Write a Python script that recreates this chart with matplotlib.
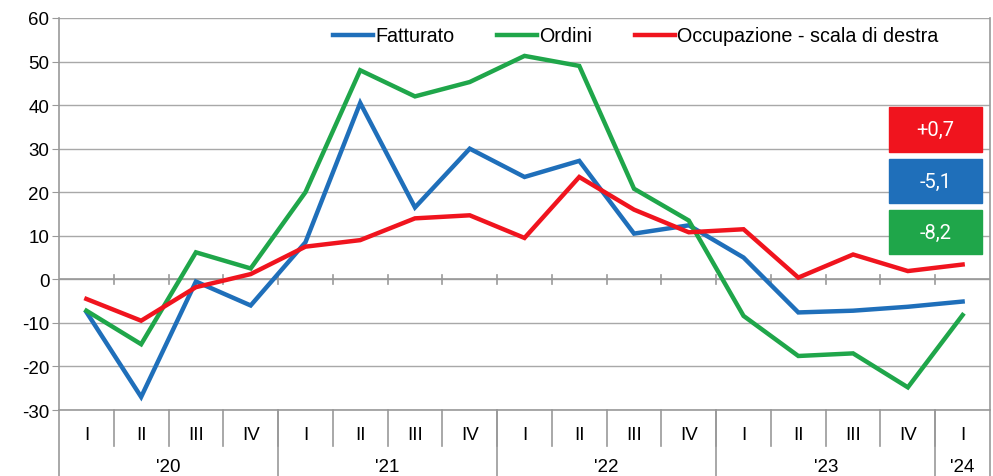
import matplotlib
matplotlib.use("Agg")
import matplotlib.pyplot as plt
from matplotlib.patches import Rectangle
import matplotlib.transforms as mtransforms

plt.rcParams['font.family'] = ['Liberation Sans', 'DejaVu Sans']
plt.rcParams['axes.unicode_minus'] = False

quarters = ["I", "II", "III", "IV", "I", "II", "III", "IV", "I", "II", "III", "IV",
            "I", "II", "III", "IV", "I"]
years = ["'20", "'21", "'22", "'23", "'24"]
year_counts = [4, 4, 4, 4, 1]

fatturato = [-7.5, -27.0, -0.5, -6.0, 8.5, 40.5, 16.5, 30.0, 23.5, 27.2, 10.5, 12.4,
             5.0, -7.6, -7.2, -6.3, -5.1]
ordini = [-7.2, -14.9, 6.2, 2.5, 20.0, 48.0, 42.0, 45.3, 51.3, 49.0, 20.8, 13.5,
          -8.4, -17.6, -17.0, -24.8, -8.2]
occupazione = [-4.5, -9.5, -1.8, 1.2, 7.5, 9.0, 14.0, 14.7, 9.5, 23.5, 16.0, 10.8,
               11.5, 0.4, 5.7, 1.9, 3.4]

series_names = ["Fatturato", "Ordini", "Occupazione - scala di destra"]
colors = ["#1f6fba", "#1fa64a", "#f0141e"]
box_labels = ["+0,7", "-5,1", "-8,2"]
box_colors = ["#f0141e", "#1f6fba", "#1fa64a"]

FS = 13.5
W, H = 993, 477
fig = plt.figure(figsize=(W / 100, H / 100), dpi=100)
L, R, T, B = 59, 990, 19, 411
ax = fig.add_axes([L / W, 1 - B / H, (R - L) / W, (B - T) / H])

x = list(range(len(quarters)))
for vals, name, c in zip([fatturato, ordini, occupazione], series_names, colors):
    ax.plot(x, vals, color=c, lw=3.2, label=name, solid_joinstyle='miter', zorder=3)

ax.set_xlim(-0.5, len(quarters) - 0.5)
ax.set_ylim(-30, 60)
ax.set_yticks(range(-30, 61, 10))
ax.tick_params(axis='y', labelsize=FS, length=5, color='#999999', pad=2)
ax.set_xticks([])
ax.grid(axis='y', color='#a8a8a8', lw=1.0)
ax.set_axisbelow(True)
ax.spines['top'].set_visible(False)
for s in ['left', 'right', 'bottom']:
    ax.spines[s].set_color('#999999')
    ax.spines[s].set_linewidth(1.2)
ax.axhline(0, color='#999999', lw=1.2, zorder=1)

# ticks on zero line
for i in range(1, len(quarters)):
    ax.plot([i - 0.5, i - 0.5], [-1.0, 0.9], color='#999999', lw=1.2, zorder=1, clip_on=False)

trans = mtransforms.blended_transform_factory(ax.transData, ax.transAxes)
frac_q = (447 - B) / (B - T)
frac_y = (H - B) / (B - T)
for i, q in enumerate(quarters):
    ax.text(i, -(435 - B) / (B - T), q, transform=trans, ha='center', va='center', fontsize=FS)
for i in range(1, len(quarters)):
    ax.plot([i - 0.5, i - 0.5], [0, -frac_q], transform=trans, color='#999999',
            lw=1.2, clip_on=False)
start = 0
bounds = [-0.5]
for yl, n in zip(years, year_counts):
    center = start + (n - 1) / 2
    ax.text(center, -(468 - B) / (B - T), yl, transform=trans, ha='center', va='center', fontsize=FS)
    start += n
    bounds.append(start - 0.5)
for b in bounds:
    ax.plot([b, b], [0, -frac_y - 0.05], transform=trans, color='#999999', lw=1.2, clip_on=False)

leg = ax.legend(ncol=3, loc='center left',
                bbox_to_anchor=((333 - L) / (R - L), 1 - (37 - T) / (B - T)),
                frameon=False, fontsize=14.2, handlelength=2.05, handletextpad=0.1,
                columnspacing=2.15, borderpad=0, borderaxespad=0)
for line in leg.get_lines():
    line.set_linewidth(3.2)

boxes = [(108, 153), (160, 204), (211, 255)]
for (y0, y1), lab, c in zip(boxes, box_labels, box_colors):
    fig.patches.append(Rectangle((889 / W, 1 - y1 / H), 93 / W, (y1 - y0) / H,
                                 transform=fig.transFigure, color=c, zorder=5))
    fig.text((889 + 46.5) / W, 1 - (y0 + y1) / 2 / H, lab, ha='center', va='center',
             color='white', fontsize=14.5, family=['Roboto', 'DejaVu Sans'], zorder=6)

fig.savefig("out.png", dpi=100)
